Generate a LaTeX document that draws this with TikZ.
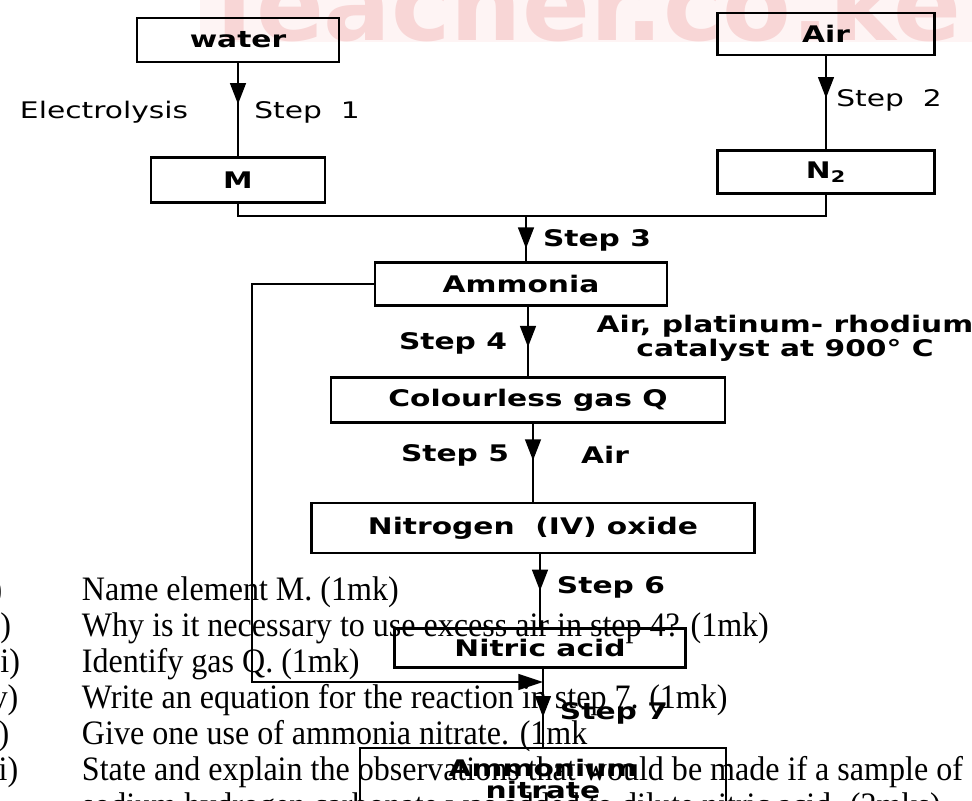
\documentclass[tikz,border=0pt]{standalone}
\usepackage{fontspec}
\setmainfont[FakeStretch=0.935]{Liberation Serif}
\newfontfamily\chemfont[FakeStretch=1.3]{DejaVu Sans}
\usetikzlibrary{arrows.meta,decorations.markings}

\definecolor{wmband}{RGB}{254,244,244}
\definecolor{wmletter}{RGB}{248,214,214}

\begin{document}
\begin{tikzpicture}[
  x=0.2mm, y=-0.2mm,
  line width=1.1pt,
  flowbox/.style={
    draw,
    line width=1.5pt,
    inner sep=0pt,
    align=center,
    font=\chemfont\bfseries\fontsize{13}{13}\selectfont
  },
  boxsize/.style 2 args={minimum width=#1*0.2mm, minimum height=#2*0.2mm},
  steplabel/.style={inner sep=0pt, font=\chemfont\bfseries\fontsize{13}{11.4}\selectfont},
  plainlabel/.style={inner sep=0pt, font=\chemfont\fontsize{13}{13}\selectfont},
  headat/.style={
    postaction={decorate},
    decoration={markings, mark=at position #1 with {\arrow{Triangle[width=9pt,length=12pt]}}}
  },
  question/.style={anchor=base west, inner sep=0pt, font=\fontsize{19.5}{20.5}\selectfont}
]

\useasboundingbox (0,0) rectangle (972,800);
\clip (0,0) rectangle (972,800);
\fill[white] (0,0) rectangle (972,800);

% Watermark
\fill[wmband] (200,0) rectangle (972,42);
\node[anchor=base west, inner sep=0pt, text=wmletter,
  font=\fontspec{DejaVu Sans}\bfseries\fontsize{57}{57}\selectfont] (mark) at (200,40) {Teacher.co.ke};

% Nodes
\node[flowbox, boxsize={202}{44}] (water) at (238,40) {water};
\node[flowbox, boxsize={217}{42}] (air) at (826,34) {Air};
\node[flowbox, boxsize={174}{45}] (M) at (238,180) {M};
\node[flowbox, boxsize={217}{43}] (N2) at (826,172) {N\textsubscript{2}};
\node[flowbox, boxsize={292}{43}] (ammonia) at (521,284) {Ammonia};
\node[flowbox, boxsize={394}{45}] (gasQ) at (528,400) {Colourless gas Q};
\node[flowbox, boxsize={443}{50}] (NO2) at (533,528) {Nitrogen \ (IV) oxide};
\node[flowbox, boxsize={291}{39}] (nitric) at (540,648) {Nitric acid};
\node[flowbox, boxsize={366}{62}] (nitrate) at (543,779) {Ammonium\\nitrate};

% Labels
\node[plainlabel] (electro) at (104,112) {Electrolysis};
\node[plainlabel] (step1) at (307,112) {Step \ 1};
\node[plainlabel] (step2) at (889,100) {Step \ 2};
\node[steplabel] (step3) at (597,240) {Step 3};
\node[steplabel] (step4) at (453,343) {Step 4};
\node[steplabel, align=center] (catalyst) at (785,338) {Air, platinum- rhodium\\catalyst at 900° C};
\node[steplabel] (step5) at (455,455) {Step 5};
\node[steplabel] (air5) at (605,455) {Air};
\node[steplabel, anchor=west] (step6) at (556,587) {Step 6};
\node[steplabel, anchor=west] (step7) at (559,713) {Step 7};

% Connectors
\coordinate (mix) at (526,216);
\coordinate (feed) at (nitrate.north |- 0,682);
\draw[headat=0.44] (water.south) -- (M.north);
\draw[headat=0.45] (air.south) -- (N2.north);
\draw (M.south) |- (mix) -| (N2.south);
\draw[headat=0.72] (mix) -- (mix |- ammonia.north);
\draw[headat=0.58] (ammonia.south -| gasQ.north) -- (gasQ.north);
\draw[headat=0.47] (gasQ.south -| NO2.north) -- (NO2.north);
\draw[headat=0.5] (NO2.south -| nitric.north) -- (nitric.north);
\draw[headat=0.62] (nitric.south -| nitrate.north) -- (nitrate.north);
\draw[-{Triangle[width=9pt,length=14pt]}] (ammonia.west) -- (ammonia.west -| 252,0) |- (feed);

% Questions
\node[question] (q1n) at (-29,600) {(i)};
\node[question] (q2n) at (-29,636) {(ii)};
\node[question] (q3n) at (-29,672) {(iii)};
\node[question] (q4n) at (-29,708) {(iv)};
\node[question] (q5n) at (-29,744) {(v)};
\node[question] (q6n) at (-29,780) {(vi)};
\node[question] (q1) at (81,600) {Name element M. (1mk)};
\node[question] (q2) at (81,636) {Why is it necessary to use excess air in step 4? (1mk)};
\node[question] (q3) at (81,672) {Identify gas Q. (1mk)};
\node[question] (q4) at (81,708) {Write an equation for the reaction in step 7. (1mk)};
\node[question] (q5) at (81,744) {Give one use of ammonia nitrate. (1mk};
\node[question] (q6) at (81,780) {State and explain the observations that would be made if a sample of};
\node[question] (q7) at (81,816) {sodium hydrogen carbonate was added to dilute nitric acid. (2mks)};

\end{tikzpicture}
\end{document}
